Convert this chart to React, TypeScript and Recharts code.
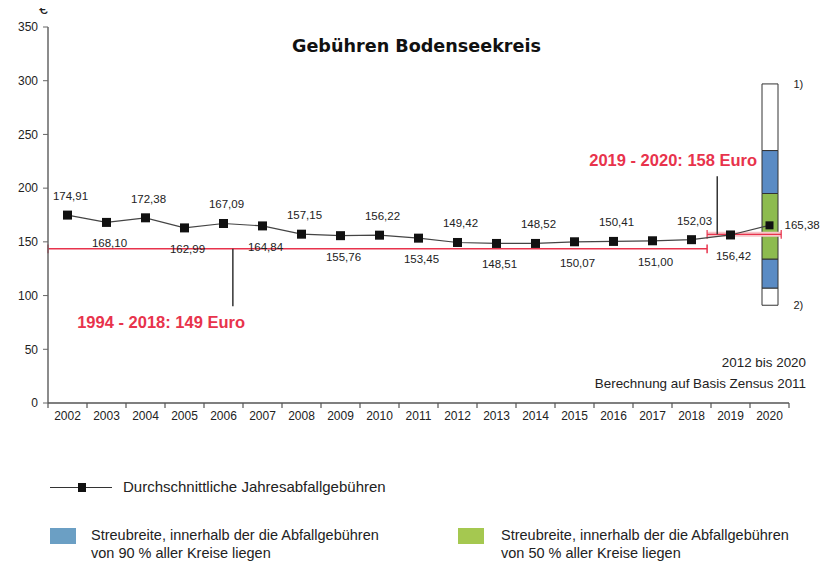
import { ComposedChart, Line, Bar, XAxis, YAxis, ReferenceLine, ReferenceDot, LabelList } from "recharts";

const years = ["2002", "2003", "2004", "2005", "2006", "2007", "2008", "2009", "2010", "2011", "2012", "2013", "2014", "2015", "2016", "2017", "2018", "2019", "2020"];
const fees = [174.91, 168.1, 172.38, 162.99, 167.09, 164.84, 157.15, 155.76, 156.22, 153.45, 149.42, 148.51, 148.52, 150.07, 150.41, 151.0, 152.03, 156.42, 165.38];
const yTicks = [0, 50, 100, 150, 200, 250, 300, 350];

// 2020 spread column: white / 90% / 50% / 90% / white, bounds
const spreadBounds = [91, 107, 134, 195, 235, 297];
const spreadFills = ["#ffffff", "#5a8bc4", "#8dbb4f", "#5a8bc4", "#ffffff"];

// average lines as they sit in the picture (x in band units of the year axis)
const avgOldLine = { y: 143.5, from: 0, to: 16.9 };
const avgNewLine = { y: 157, from: 16.9, to: 18.8 };
const avgOldPointer = { x: 4.74, from: 143.5, to: 90 };
const avgNewPointer = { x: 17.16, from: 157, to: 211 };
const avgOldText = { text: "1994 - 2018: 149 Euro", x: 2.9, y: 75 };
const avgNewText = { text: "2019 - 2020: 158 Euro", x: 16.03, y: 226 };

const RED = "#e8334c";
const NARROW = "'Liberation Sans Narrow', 'Liberation Sans', Arial, sans-serif";

const data = years.map((year, i) => {
  const row: any = { year, pos: i + 0.5, fee: fees[i] };
  if (i === years.length - 1) {
    spreadBounds.forEach((b, k) => {
      row["s" + k] = k === 0 ? b : b - spreadBounds[k - 1];
    });
  }
  return row;
});

const fmt = (v: number) => v.toFixed(2).replace(".", ",");

const renderFeeLabel = (p: any) => {
  const x = p.x ?? p.viewBox?.x;
  const y = p.y ?? p.viewBox?.y;
  const i = p.index;
  const last = i === fees.length - 1;
  const above = i % 2 === 0;
  return (
    <text
      key={"l" + i}
      x={last ? x + 15 : x + 3}
      y={last ? y : above ? y - 19 : y + 21}
      textAnchor={last ? "start" : "middle"}
      dominantBaseline="central"
      fontSize={11.5}
      fontFamily={NARROW}
      fill="#222"
    >
      {fmt(p.value)}
    </text>
  );
};

const renderDot = (p: any) => {
  const s = p.index === fees.length - 1 ? 8 : 9;
  return <rect key={"d" + p.index} x={p.cx - s / 2} y={p.cy - s / 2} width={s} height={s} fill="#111" />;
};

const renderYearTick = (p: any) => {
  const { x, y, payload, index } = p;
  const half = payload?.offset ?? 19.5;
  const axisY = y - 8;
  return (
    <g key={"t" + index}>
      <line x1={x - half} x2={x - half} y1={axisY} y2={axisY + 5} stroke="#555" strokeWidth={1.2} />
      {index === years.length - 1 && (
        <line x1={x + half} x2={x + half} y1={axisY} y2={axisY + 5} stroke="#555" strokeWidth={1.2} />
      )}
      <text x={x} y={y} dy="0.71em" textAnchor="middle" fontSize={12} fontFamily={NARROW} fill="#222">
        {payload.value}
      </text>
    </g>
  );
};

const redText = (value: string) => ({
  value,
  position: "center" as const,
  fill: RED,
  fontSize: 16.5,
  fontWeight: 700,
  fontFamily: "'Liberation Sans', Arial, sans-serif",
});

const note = (value: string) => ({ value, position: "right" as const, offset: 23, fontSize: 11, fill: "#222", fontFamily: NARROW });

const seg = (x1: number, y1: number, x2: number, y2: number) => [{ x: x1, y: y1 }, { x: x2, y: y2 }];

export default function App() {
  return (
    <div style={{ position: "relative", width: 829, height: 564, marginLeft: -8, marginTop: -8, background: "#fff", fontFamily: NARROW, color: "#222" }}>
      <ComposedChart width={829} height={440} data={data} margin={{ top: 27, right: 40, bottom: 7, left: 0 }}>
        <YAxis
          domain={[0, 350]}
          ticks={yTicks}
          interval={0}
          width={48}
          tickSize={5}
          tickMargin={5}
          axisLine={{ stroke: "#666", strokeWidth: 1.5 }}
          tickLine={{ stroke: "#666" }}
          tick={{ fill: "#222", fontSize: 12, fontFamily: NARROW }}
        />
        <XAxis
          xAxisId="cat"
          dataKey="year"
          interval={0}
          height={30}
          tickSize={6}
          tickMargin={2}
          tickLine={false}
          axisLine={{ stroke: "#555", strokeWidth: 1.5 }}
          tick={renderYearTick}
        />
        <XAxis xAxisId="num" dataKey="pos" type="number" domain={[0, years.length]} allowDataOverflow hide />

        <Bar xAxisId="cat" dataKey="s0" stackId="spread" barSize={16} fill="none" stroke="none" isAnimationActive={false} />
        {spreadFills.map((fill, k) => (
          <Bar key={"s" + k} xAxisId="cat" dataKey={"s" + (k + 1)} stackId="spread" barSize={16} fill={fill} stroke="#333" strokeWidth={1} isAnimationActive={false} />
        ))}

        <ReferenceLine xAxisId="num" segment={seg(avgOldLine.from, avgOldLine.y, avgOldLine.to, avgOldLine.y)} stroke={RED} strokeWidth={1.5} />
        <ReferenceLine xAxisId="num" segment={seg(avgOldLine.from, avgOldLine.y - 4, avgOldLine.from, avgOldLine.y + 4)} stroke={RED} strokeWidth={1.5} />
        <ReferenceLine xAxisId="num" segment={seg(avgOldLine.to, avgOldLine.y - 4, avgOldLine.to, avgOldLine.y + 4)} stroke={RED} strokeWidth={1.5} />
        <ReferenceLine xAxisId="num" segment={seg(avgNewLine.from, avgNewLine.y, avgNewLine.to, avgNewLine.y)} stroke="#f6c6ca" strokeWidth={5} />
        <ReferenceLine xAxisId="num" segment={seg(avgNewLine.from, avgNewLine.y, avgNewLine.to, avgNewLine.y)} stroke={RED} strokeWidth={1.2} />
        <ReferenceLine xAxisId="num" segment={seg(avgNewLine.from, avgNewLine.y - 4, avgNewLine.from, avgNewLine.y + 4)} stroke={RED} strokeWidth={1.2} />
        <ReferenceLine xAxisId="num" segment={seg(avgNewLine.to, avgNewLine.y - 4, avgNewLine.to, avgNewLine.y + 4)} stroke={RED} strokeWidth={1.2} />
        <ReferenceLine xAxisId="num" segment={seg(avgOldPointer.x, avgOldPointer.from, avgOldPointer.x, avgOldPointer.to)} stroke="#333" strokeWidth={1.5} />
        <ReferenceLine xAxisId="num" segment={seg(avgNewPointer.x, avgNewPointer.from, avgNewPointer.x, avgNewPointer.to)} stroke="#333" strokeWidth={1.5} />

        <ReferenceDot xAxisId="num" x={avgOldText.x} y={avgOldText.y} r={1} fill="none" stroke="none" label={redText(avgOldText.text)} />
        <ReferenceDot xAxisId="num" x={avgNewText.x} y={avgNewText.y} r={1} fill="none" stroke="none" label={redText(avgNewText.text)} />
        <ReferenceDot xAxisId="num" x={years.length - 0.5} y={spreadBounds[spreadBounds.length - 1]} r={1} fill="none" stroke="none" label={note("1)")} ifOverflow="visible" />
        <ReferenceDot xAxisId="num" x={years.length - 0.5} y={spreadBounds[0]} r={1} fill="none" stroke="none" label={note("2)")} ifOverflow="visible" />

        <Line xAxisId="cat" dataKey="fee" stroke="#444" strokeWidth={1.2} dot={renderDot} activeDot={false} isAnimationActive={false}>
          <LabelList dataKey="fee" content={renderFeeLabel} />
        </Line>
      </ComposedChart>

      <div style={{ position: "absolute", left: 2, top: 36, width: 829, textAlign: "center", fontFamily: "'DejaVu Sans', Verdana, sans-serif", fontWeight: 700, fontSize: 17.6, color: "#111" }}>
        Gebühren Bodenseekreis
      </div>
      <div style={{ position: "absolute", left: 39, top: 0, fontSize: 16 }}>€</div>
      <div style={{ position: "absolute", right: 23, top: 352, fontSize: 13.4, lineHeight: "21px", textAlign: "right" }}>
        <div>2012 bis 2020</div>
        <div>Berechnung auf Basis Zensus 2011</div>
      </div>

      <div style={{ position: "absolute", left: 50, top: 487, width: 62, height: 1, background: "#333" }} />
      <div style={{ position: "absolute", left: 78, top: 483, width: 8, height: 9, background: "#111" }} />
      <div style={{ position: "absolute", left: 123, top: 478, fontSize: 15, lineHeight: "18px" }}>Durchschnittliche Jahresabfallgebühren</div>

      <div style={{ position: "absolute", left: 50, top: 528, width: 26, height: 16, background: "#6b9fc4" }} />
      <div style={{ position: "absolute", left: 91, top: 526, fontSize: 14.5, lineHeight: "18px" }}>
        <div>Streubreite, innerhalb der die Abfallgebühren</div>
        <div>von 90 % aller Kreise liegen</div>
      </div>
      <div style={{ position: "absolute", left: 458, top: 528, width: 26, height: 16, background: "#a5c850" }} />
      <div style={{ position: "absolute", left: 501, top: 526, fontSize: 14.5, lineHeight: "18px" }}>
        <div>Streubreite, innerhalb der die Abfallgebühren</div>
        <div>von 50 % aller Kreise liegen</div>
      </div>
    </div>
  );
}
